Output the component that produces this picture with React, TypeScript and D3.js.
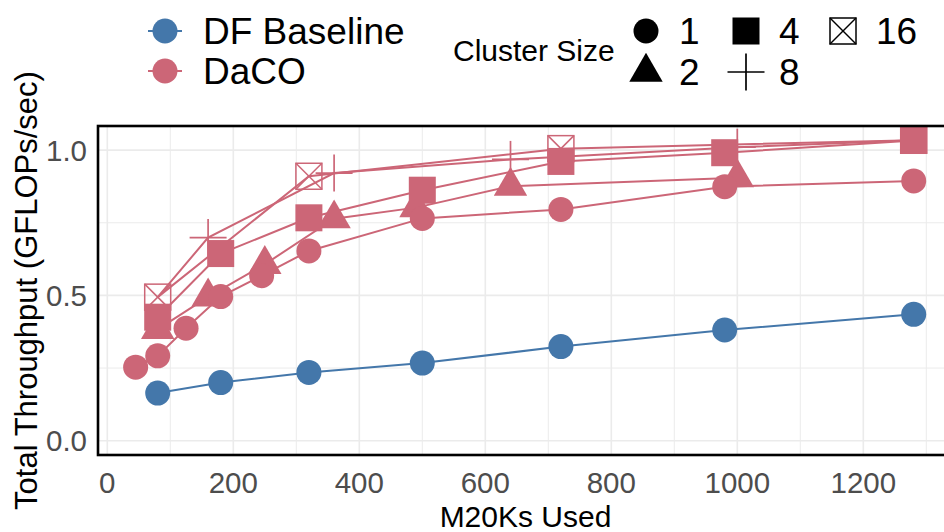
import React from 'react';
import * as d3 from 'd3';

// DF Baseline (cluster size 1)
const baselineX = [80, 180, 320, 500, 720, 980, 1280];
const baselineY = [0.164, 0.2, 0.235, 0.267, 0.324, 0.381, 0.435];

// DaCO, one series per cluster size
const daco1X = [45, 80, 125, 180, 245, 320, 500, 720, 980, 1280];
const daco1Y = [0.253, 0.292, 0.387, 0.496, 0.568, 0.653, 0.765, 0.796, 0.874, 0.894];
const daco2X = [80, 160, 250, 360, 490, 640, 1000];
const daco2Y = [0.383, 0.495, 0.607, 0.764, 0.802, 0.876, 0.905];
const daco4X = [80, 180, 320, 500, 720, 980, 1280];
const daco4Y = [0.425, 0.644, 0.767, 0.862, 0.961, 0.991, 1.033];
const daco8X = [80, 160, 360, 640, 1000, 1280];
const daco8Y = [0.494, 0.699, 0.921, 0.968, 1.01, 1.034];
const daco8Marked = [false, true, true, true, true, false];
const daco16X = [80, 320, 720, 1280];
const daco16Y = [0.494, 0.91, 1.005, 1.034];

const xTicks = [0, 200, 400, 600, 800, 1000, 1200];
const xMinor = [100, 300, 500, 700, 900, 1100, 1300];
const yTicks = [0, 0.5, 1.0];
const yMinor = [0.25, 0.75];

const clusterLabels = ['1', '2', '4', '8', '16'];

const BLUE = '#4477AA';
const ROSE = '#CC6677';
const FONT = '"Liberation Sans", Arial, Helvetica, sans-serif';

type Shape = 'circle' | 'triangle' | 'square' | 'plus' | 'boxcross';

const Marker = ({ shape, x, y, color }: { shape: Shape; x: number; y: number; color: string }) => {
  if (shape === 'circle') return <circle cx={x} cy={y} r={12.5} fill={color} />;
  if (shape === 'square') return <rect x={x - 13.5} y={y - 13.5} width={27} height={27} fill={color} />;
  if (shape === 'triangle') {
    const r = 19.3;
    const hw = r * 0.866;
    const pts = `${x},${y - r} ${x + hw},${y + r / 2} ${x - hw},${y + r / 2}`;
    return <polygon points={pts} fill={color} />;
  }
  if (shape === 'plus') {
    const a = 18.5;
    return (
      <g stroke={color} strokeWidth={1.7}>
        <line x1={x - a} x2={x + a} y1={y} y2={y} />
        <line x1={x} x2={x} y1={y - a} y2={y + a} />
      </g>
    );
  }
  const h = 13;
  return (
    <g stroke={color} strokeWidth={1.5} fill="none">
      <rect x={x - h} y={y - h} width={2 * h} height={2 * h} />
      <line x1={x - h} y1={y - h} x2={x + h} y2={y + h} />
      <line x1={x - h} y1={y + h} x2={x + h} y2={y - h} />
    </g>
  );
};

const App = () => {
  const width = 944;
  const height = 532;
  const panel = { left: 98, top: 126, right: 953, bottom: 455 };

  const x = d3.scaleLinear().domain([0, 1200]).range([107.3, 863.3]);
  const y = d3.scaleLinear().domain([0, 1]).range([440.7, 150.1]);

  const line = d3.line<[number, number]>()
    .x(d => x(d[0]))
    .y(d => y(d[1]));

  const zip = (xs: number[], ys: number[]) => xs.map((v, i) => [v, ys[i]] as [number, number]);

  // drawing order: hollow shapes first so filled ones sit on top
  const dacoSeries = [
    { shape: 'boxcross' as Shape, pts: zip(daco16X, daco16Y), marked: daco16X.map(() => true) },
    { shape: 'plus' as Shape, pts: zip(daco8X, daco8Y), marked: daco8Marked },
    { shape: 'triangle' as Shape, pts: zip(daco2X, daco2Y), marked: daco2X.map(() => true) },
    { shape: 'square' as Shape, pts: zip(daco4X, daco4Y), marked: daco4X.map(() => true) },
    { shape: 'circle' as Shape, pts: zip(daco1X, daco1Y), marked: daco1X.map(() => true) },
  ];
  const baseline = zip(baselineX, baselineY);

  const legendShapes: { shape: Shape; label: string; kx: number; ky: number }[] = [
    { shape: 'circle', label: clusterLabels[0], kx: 646, ky: 31 },
    { shape: 'triangle', label: clusterLabels[1], kx: 646, ky: 72 },
    { shape: 'square', label: clusterLabels[2], kx: 746, ky: 31 },
    { shape: 'plus', label: clusterLabels[3], kx: 746, ky: 72 },
    { shape: 'boxcross', label: clusterLabels[4], kx: 843, ky: 31 },
  ];

  return (
    <div style={{ position: 'absolute', left: 0, top: 0 }}>
      <svg width={width} height={height} style={{ display: 'block', background: '#fff', fontFamily: FONT }}>
        <defs>
          <clipPath id="panel-clip">
            <rect x={panel.left} y={panel.top} width={panel.right - panel.left} height={panel.bottom - panel.top} />
          </clipPath>
        </defs>

        {/* grid */}
        <g clipPath="url(#panel-clip)">
          {xMinor.map(t => (
            <line key={'xm' + t} x1={x(t)} x2={x(t)} y1={panel.top} y2={panel.bottom} stroke="#EBEBEB" strokeWidth={1} />
          ))}
          {yMinor.map(t => (
            <line key={'ym' + t} x1={panel.left} x2={panel.right} y1={y(t)} y2={y(t)} stroke="#EBEBEB" strokeWidth={1} />
          ))}
          {xTicks.map(t => (
            <line key={'xg' + t} x1={x(t)} x2={x(t)} y1={panel.top} y2={panel.bottom} stroke="#EBEBEB" strokeWidth={1.6} />
          ))}
          {yTicks.map(t => (
            <line key={'yg' + t} x1={panel.left} x2={panel.right} y1={y(t)} y2={y(t)} stroke="#EBEBEB" strokeWidth={1.6} />
          ))}
        </g>

        {/* lines */}
        <path d={line(baseline) || ''} fill="none" stroke={BLUE} strokeWidth={2} />
        {dacoSeries.map(s => (
          <path key={'l' + s.shape} d={line(s.pts) || ''} fill="none" stroke={ROSE} strokeWidth={2} />
        ))}

        {/* points */}
        {baseline.map((d, i) => (
          <Marker key={'b' + i} shape="circle" x={x(d[0])} y={y(d[1])} color={BLUE} />
        ))}
        {dacoSeries.map(s =>
          s.pts.map((d, i) =>
            s.marked[i] ? <Marker key={s.shape + i} shape={s.shape} x={x(d[0])} y={y(d[1])} color={ROSE} /> : null
          )
        )}

        {/* panel border */}
        <rect x={panel.left} y={panel.top} width={panel.right - panel.left} height={panel.bottom - panel.top}
          fill="none" stroke="#000" strokeWidth={2.6} />

        {/* axis labels */}
        {xTicks.map(t => (
          <text key={'xt' + t} x={x(t)} y={493} textAnchor="middle" fontSize={29.5} fill="#4D4D4D">{t}</text>
        ))}
        {yTicks.map(t => (
          <text key={'yt' + t} x={87} y={y(t) + 10.5} textAnchor="end" fontSize={29.5} fill="#4D4D4D">{t.toFixed(1)}</text>
        ))}
        <text x={(panel.left + panel.right) / 2} y={527} textAnchor="middle" fontSize={30} fill="#000">M20Ks Used</text>
        <text transform={`translate(37,${(panel.top + panel.bottom) / 2}) rotate(-90)`} textAnchor="middle" fontSize={31} fill="#000">
          Total Throughput (GFLOPs/sec)
        </text>

        {/* legend: series colour */}
        {[{ label: 'DF Baseline', color: BLUE, cy: 31 }, { label: 'DaCO', color: ROSE, cy: 71 }].map(l => (
          <g key={l.label}>
            <line x1={148} x2={182} y1={l.cy} y2={l.cy} stroke={l.color} strokeWidth={2} />
            <circle cx={165} cy={l.cy} r={12.5} fill={l.color} />
            <text x={203} y={l.cy + 12.8} fontSize={37} fill="#000">{l.label}</text>
          </g>
        ))}

        {/* legend: cluster size */}
        <text x={453} y={61} fontSize={30} fill="#000">Cluster Size</text>
        {legendShapes.map(l => (
          <g key={'lg' + l.label}>
            <Marker shape={l.shape} x={l.kx} y={l.ky} color="#000" />
            <text x={l.kx + 33} y={l.ky + 12.8} fontSize={37} fill="#000">{l.label}</text>
          </g>
        ))}
      </svg>
    </div>
  );
};

export default App;
